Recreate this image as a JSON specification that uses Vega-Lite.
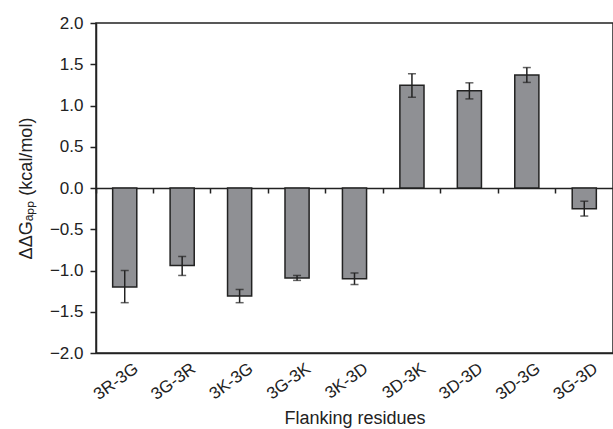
{
  "$schema": "https://vega.github.io/schema/vega-lite/v6.json",
  "autosize": "none",
  "padding": {"left": 96, "top": 23, "right": 0, "bottom": 76},
  "width": 517,
  "height": 330,
  "config": {
    "font": "Liberation Sans",
    "view": {"stroke": "#222", "strokeWidth": 1.5},
    "axis": {"domainColor": "#222", "tickColor": "#222", "labelColor": "#222", "titleColor": "#222", "domainWidth": 1.5, "tickWidth": 1.5, "grid": false}
  },
  "data": {"values": [
    {"res": "3R-3G", "v": -1.20, "lo": -1.39, "hi": -1.00},
    {"res": "3G-3R", "v": -0.94, "lo": -1.06, "hi": -0.83},
    {"res": "3K-3G", "v": -1.31, "lo": -1.39, "hi": -1.23},
    {"res": "3G-3K", "v": -1.09, "lo": -1.12, "hi": -1.06},
    {"res": "3K-3D", "v": -1.10, "lo": -1.17, "hi": -1.03},
    {"res": "3D-3K", "v": 1.245, "lo": 1.10, "hi": 1.385},
    {"res": "3D-3D", "v": 1.18, "lo": 1.08, "hi": 1.275},
    {"res": "3D-3G", "v": 1.37, "lo": 1.28, "hi": 1.46},
    {"res": "3G-3D", "v": -0.25, "lo": -0.34, "hi": -0.16}
  ]},
  "resolve": {"scale": {"x": "independent"}, "axis": {"x": "independent"}},
  "layer": [
    {
      "mark": {"type": "bar", "width": {"band": 0.42}, "fill": "#8f9094", "stroke": "#222", "strokeWidth": 1.5},
      "encoding": {
        "x": {"field": "res", "type": "nominal", "sort": null,
              "scale": {"paddingInner": 0, "paddingOuter": 0},
              "axis": {"orient": "bottom", "title": "Flanking residues", "titleFontSize": 18, "titleFontWeight": "normal", "titlePadding": 7,
                       "labelAngle": -36, "labelAlign": "right", "labelBaseline": "top", "labelFontSize": 17, "labelPadding": 7, "ticks": false, "labelOffset": 7}},
        "y": {"field": "v", "type": "quantitative",
              "scale": {"domain": [-2, 2], "nice": false},
              "axis": {"values": [-2, -1.5, -1, -0.5, 0, 0.5, 1, 1.5, 2], "format": ".1f", "labelFontSize": 17, "tickSize": 6, "labelPadding": 7,
                       "title": "ΔΔGₐₚₚ (kcal/mol)", "titleFontSize": 18, "titleFontWeight": "normal", "titlePadding": 14}},
        "y2": {"datum": 0}
      }
    },
    {
      "mark": {"type": "rule", "stroke": "#222", "strokeWidth": 1.5},
      "encoding": {
        "x": {"field": "res", "type": "nominal", "sort": null,
              "scale": {"paddingInner": 0, "paddingOuter": 0},
              "axis": {"orient": "bottom", "offset": -165, "labels": false, "title": null, "tickSize": 5, "bandPosition": 0}},
        "y": {"field": "lo", "type": "quantitative"},
        "y2": {"field": "hi"}
      }
    },
    {
      "mark": {"type": "tick", "color": "#222", "size": 8, "thickness": 1.5},
      "encoding": {
        "x": {"field": "res", "type": "nominal", "sort": null, "scale": {"paddingInner": 0, "paddingOuter": 0}, "axis": null},
        "y": {"field": "lo", "type": "quantitative"}
      }
    },
    {
      "mark": {"type": "tick", "color": "#222", "size": 8, "thickness": 1.5},
      "encoding": {
        "x": {"field": "res", "type": "nominal", "sort": null, "scale": {"paddingInner": 0, "paddingOuter": 0}, "axis": null},
        "y": {"field": "hi", "type": "quantitative"}
      }
    }
  ]
}
